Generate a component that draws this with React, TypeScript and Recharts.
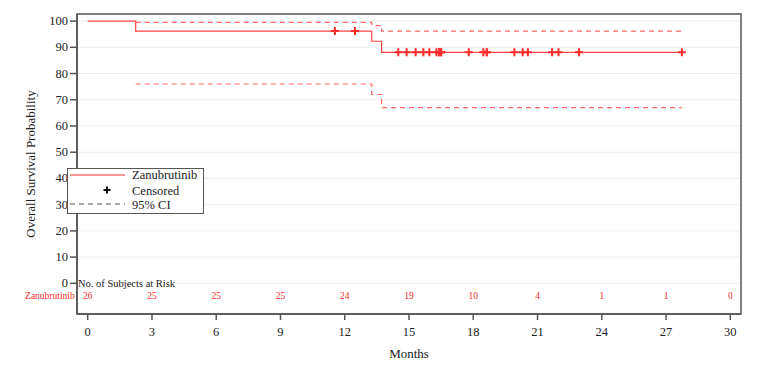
import { ComposedChart, Line, Scatter, XAxis, YAxis, CartesianGrid, Legend, ReferenceDot, ReferenceArea } from "recharts"

// Kaplan-Meier estimate (months, %)
const kmTime = [0, 2.24, 13.26, 13.72, 27.74]
const kmSurv = [100, 96.2, 92.3, 88.1, 88.1]

// 95% confidence band
const ciTime = [2.24, 13.26, 13.72, 27.74]
const ciUpper = [99.5, 98.3, 96.2, 96.2]
const ciLower = [76.0, 72.0, 67.0, 67.0]

// censored subjects
const censorTime = [11.54, 12.48, 14.5, 14.89, 15.31, 15.67, 15.95, 16.28, 16.4, 16.4, 16.5, 16.5, 17.79, 18.47, 18.63, 18.63, 19.92, 20.31, 20.55, 21.68, 21.98, 22.94, 27.74]
const censorSurv = [96.2, 96.2, 88.1, 88.1, 88.1, 88.1, 88.1, 88.1, 88.1, 88.1, 88.1, 88.1, 88.1, 88.1, 88.1, 88.1, 88.1, 88.1, 88.1, 88.1, 88.1, 88.1, 88.1]

// number at risk
const riskTime = [0, 3, 6, 9, 12, 15, 18, 21, 24, 27, 30]
const riskCount = [26, 25, 25, 25, 24, 19, 10, 4, 1, 1, 0]

const xTicks = [0, 3, 6, 9, 12, 15, 18, 21, 24, 27, 30]
const yTicks = [0, 10, 20, 30, 40, 50, 60, 70, 80, 90, 100]

const km = kmTime.map((t, i) => ({ t, s: kmSurv[i] }))
const upper = ciTime.map((t, i) => ({ t, s: ciUpper[i] }))
const lower = ciTime.map((t, i) => ({ t, s: ciLower[i] }))
const censored = censorTime.map((t, i) => ({ t, s: censorSurv[i] }))

const RISK_ROW = -4.8
const risk = riskTime.map((t, i) => ({ t, s: RISK_ROW, n: riskCount[i] }))

const X_DOMAIN = [-0.5, 30.5]
const Y_DOMAIN = [-11.7, 102.7]

const FONT = "'Liberation Serif', 'Times New Roman', serif"
const RED = "#ff2a2a"
const AXIS = "#555"
const INK = "#222"

const Cross = (props: any) => {
  const { cx, cy } = props
  return <path d={`M${cx - 4},${cy}h8M${cx},${cy - 4}v8`} stroke={RED} strokeWidth={2} />
}

const RiskText = (props: any) => {
  const { cx, cy, payload } = props
  return (
    <text x={cx} y={cy} dy={3.5} textAnchor="middle" fontSize={9.5} fontFamily={FONT} fill={RED}>
      {payload.n}
    </text>
  )
}

const XTick = (props: any) => {
  const { x, y, payload } = props
  return (
    <text x={x} y={y} dy={9} textAnchor="middle" fontSize={12.5} fontFamily={FONT} fill={INK}>
      {payload.value}
    </text>
  )
}

const YTick = (props: any) => {
  const { x, y, payload } = props
  return (
    <text x={x} y={y} dy={4} textAnchor="end" fontSize={12.5} fontFamily={FONT} fill={INK}>
      {payload.value}
    </text>
  )
}

const XLabel = (props: any) => {
  const { viewBox } = props
  return (
    <text x={viewBox.x + viewBox.width / 2} y={358} textAnchor="middle" fontSize={13} fontFamily={FONT} fill={INK}>
      Months
    </text>
  )
}

const YLabel = (props: any) => {
  const { viewBox } = props
  const cx = 31
  const cy = viewBox.y + viewBox.height / 2
  return (
    <text x={cx} y={cy} transform={`rotate(-90 ${cx} ${cy})`} dy={4} textAnchor="middle" fontSize={13} fontFamily={FONT} fill={INK}>
      Overall Survival Probability
    </text>
  )
}

const RiskHeader = (props: any) => {
  const { viewBox } = props
  return (
    <text x={viewBox.x + 1} y={viewBox.y} dy={4} fontSize={10.5} fontFamily={FONT} fill={INK}>
      No. of Subjects at Risk
    </text>
  )
}

const RiskArm = (props: any) => {
  const { viewBox } = props
  return (
    <text x={viewBox.x - 13} y={viewBox.y} dy={3.5} textAnchor="end" fontSize={9.5} fontFamily={FONT} fill={RED}>
      Zanubrutinib
    </text>
  )
}

const LegendBox = () => (
  <svg width={137} height={46} style={{ display: "block" }}>
    <rect x={0.5} y={0.5} width={136} height={45} fill="#fff" stroke={AXIS} strokeWidth={1} />
    <line x1={3} x2={58} y1={7} y2={7} stroke={RED} strokeWidth={1.2} />
    <text x={65} y={11} fontSize={12.5} fontFamily={FONT} fill={INK}>Zanubrutinib</text>
    <path d="M36.5,22h7M40,18.5v7" stroke="#111" strokeWidth={2} />
    <text x={65} y={26.5} fontSize={12.5} fontFamily={FONT} fill={INK}>Censored</text>
    <line x1={3} x2={58} y1={36} y2={36} stroke="#555" strokeWidth={1.2} strokeDasharray="5 4" />
    <text x={65} y={41} fontSize={12.5} fontFamily={FONT} fill={INK}>95% CI</text>
  </svg>
)

export default function App() {
  return (
    <div style={{ position: "absolute", left: 0, top: 0, background: "#fff", fontFamily: FONT }}>
      <ComposedChart width={765} height={368} margin={{ top: 14, right: 24, left: 0, bottom: 0 }}>
        <CartesianGrid vertical={false} stroke="#eeeeee" />
        <XAxis
          dataKey="t"
          type="number"
          domain={X_DOMAIN}
          ticks={xTicks}
          allowDataOverflow
          height={54}
          tickSize={6}
          tickMargin={7}
          stroke={AXIS}
          strokeWidth={1.5}
          tick={<XTick />}
          label={XLabel}
        />
        <YAxis
          type="number"
          domain={Y_DOMAIN}
          ticks={yTicks}
          allowDataOverflow
          width={77}
          tickSize={7}
          tickMargin={2}
          stroke={AXIS}
          strokeWidth={1.5}
          tick={<YTick />}
          label={YLabel}
        />
        <ReferenceArea x1={X_DOMAIN[0]} x2={X_DOMAIN[1]} y1={Y_DOMAIN[0]} y2={Y_DOMAIN[1]} fill="none" fillOpacity={0} stroke={AXIS} strokeWidth={1.5} ifOverflow="visible" />
        <Line data={upper} dataKey="s" type="stepAfter" stroke="#ff6666" strokeWidth={1.2} strokeDasharray="5 4" dot={false} activeDot={false} isAnimationActive={false} />
        <Line data={lower} dataKey="s" type="stepAfter" stroke="#ff6666" strokeWidth={1.2} strokeDasharray="5 4" dot={false} activeDot={false} isAnimationActive={false} />
        <Line data={km} dataKey="s" type="stepAfter" stroke="#ff4444" strokeWidth={1.2} dot={false} activeDot={false} isAnimationActive={false} />
        <Scatter data={censored} dataKey="s" shape={<Cross />} isAnimationActive={false} />
        <Scatter data={risk} dataKey="s" shape={<RiskText />} isAnimationActive={false} />
        <ReferenceDot x={X_DOMAIN[0]} y={0} r={0} fill="none" stroke="none" label={RiskHeader} />
        <ReferenceDot x={0} y={RISK_ROW} r={0} fill="none" stroke="none" label={RiskArm} />
        <Legend layout="vertical" align="center" verticalAlign="middle" content={<LegendBox />} wrapperStyle={{ left: 67, top: 168, width: 137, height: 46 }} />
      </ComposedChart>
    </div>
  )
}
